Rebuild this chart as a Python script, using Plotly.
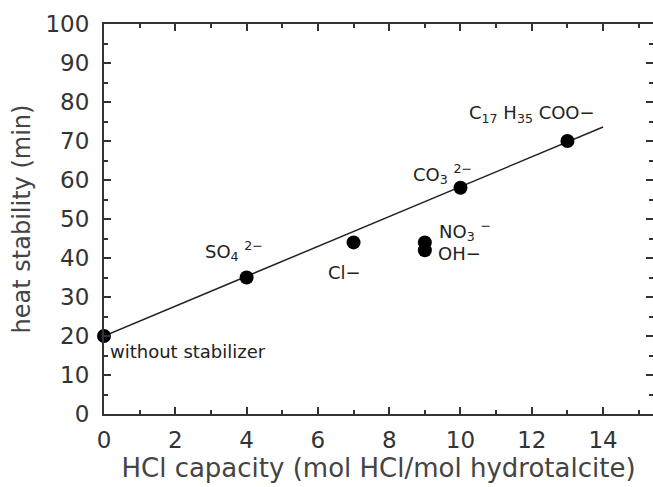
import plotly.graph_objects as go

# data points
hcl_capacity = [0, 4, 7, 9, 9, 10, 13]
heat_stability = [20, 35, 44, 44, 42, 58, 70]

# regression line endpoints
fit_x = [0, 14]
fit_y = [20, 73.6]

# labels
label_text = ["without stabilizer", "SO<sub>4</sub> <sup>2−</sup>", "Cl−",
              "NO<sub>3</sub> <sup>−</sup>", "OH−", "CO<sub>3</sub> <sup>2−</sup>",
              "C<sub>17</sub> H<sub>35</sub> COO−"]
label_x = [0.1, 3.65, 6.75, 9.35, 9.3, 9.5, 12.0]
label_y = [15.9, 41.8, 36.4, 47.0, 41.2, 61.5, 77.0]
label_anchor = ["left", "center", "center", "left", "left", "center", "center"]

FONT = "DejaVu Sans, Liberation Sans, Arial"

fig = go.Figure()
fig.add_trace(go.Scatter(x=fit_x, y=fit_y, mode="lines",
                         line=dict(color="#222", width=1.5), showlegend=False, cliponaxis=False))
fig.add_trace(go.Scatter(x=hcl_capacity, y=heat_stability, mode="markers",
                         marker=dict(color="black", size=14), showlegend=False, cliponaxis=False))

for t, x, y, a in zip(label_text, label_x, label_y, label_anchor):
    fig.add_annotation(x=x, y=y, text=t, showarrow=False, xanchor=a,
                       font=dict(size=18, color="#222", family=FONT))

axis_common = dict(showline=True, linecolor="#333", linewidth=2, mirror="ticks",
                   ticks="inside", ticklen=7, tickwidth=1.5, tickcolor="#333",
                   showgrid=False, zeroline=False,
                   tickfont=dict(size=23, color="#333", family=FONT))

fig.update_xaxes(range=[0, 15.4], dtick=2, tick0=0, ticklabelstandoff=4,
                 minor=dict(ticks="inside", dtick=1, ticklen=4, tickcolor="#333"),
                 title=dict(text="HCl capacity (mol HCl/mol hydrotalcite)",
                            font=dict(size=26, color="#444", family=FONT), standoff=3),
                 **axis_common)
fig.update_yaxes(range=[0, 100], dtick=10, tick0=0, ticklabelstandoff=8,
                 minor=dict(ticks="inside", dtick=5, ticklen=4, tickcolor="#333"),
                 title=dict(text="heat stability (min)",
                            font=dict(size=24, color="#444", family=FONT), standoff=8),
                 **axis_common)

fig.update_layout(width=653, height=487,
                  margin=dict(l=104, r=0, t=24, b=73, autoexpand=False),
                  plot_bgcolor="white", paper_bgcolor="white",
                  font=dict(family=FONT, color="#333"))

fig.write_html("out.html", config={"displayModeBar": False},
               post_script="document.body.style.margin='0';document.body.style.overflow='hidden';")
